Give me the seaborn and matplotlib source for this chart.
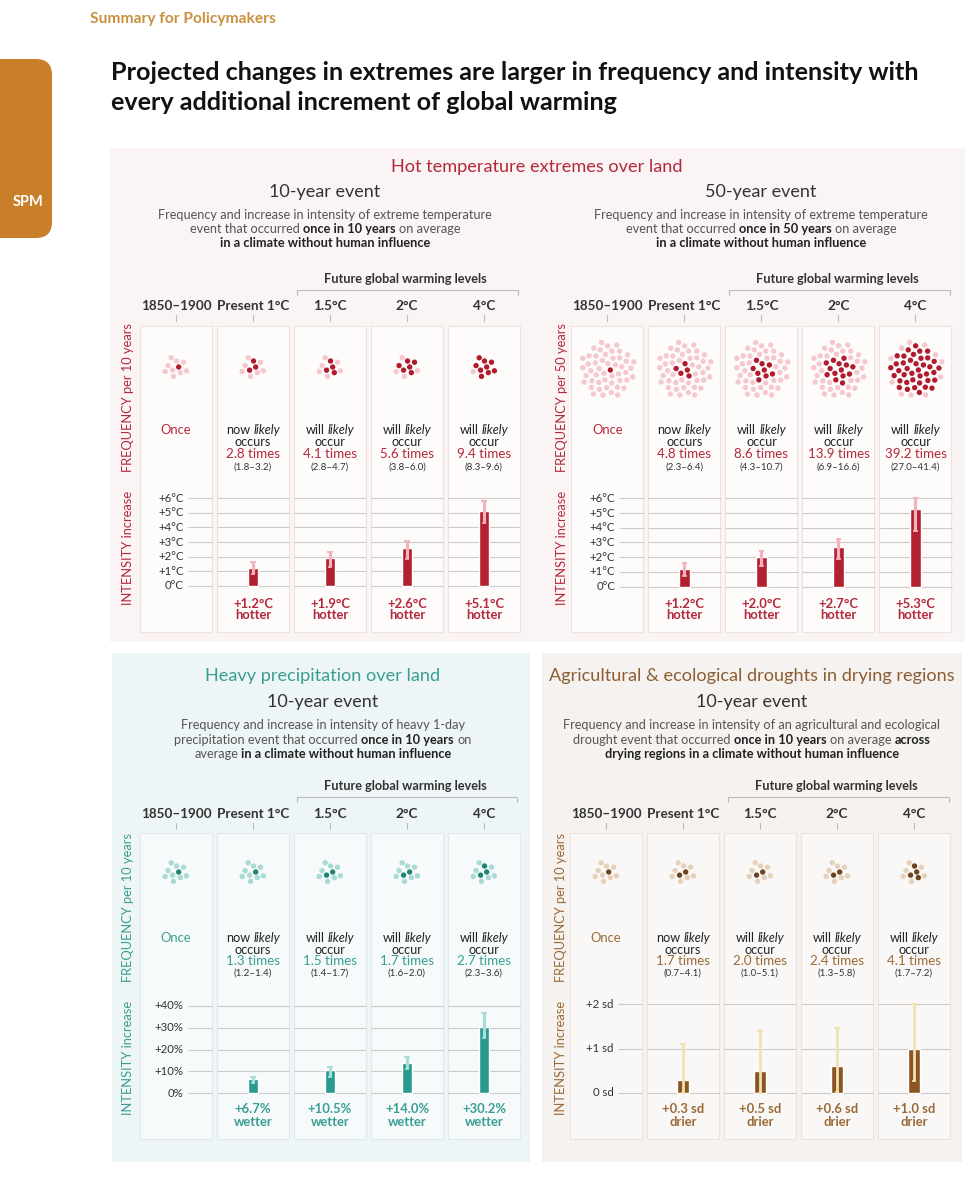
import numpy as np
import pandas as pd
import matplotlib
matplotlib.use("Agg")
import matplotlib.pyplot as plt
import seaborn as sns
from matplotlib.patches import Rectangle, FancyBboxPatch

sns.set_theme(style="white")
plt.rcParams["font.family"] = ["Lato", "DejaVu Sans"]

# ---------------- data ----------------
levels = ["1850–1900", "Present 1°C", "1.5°C", "2°C", "4°C"]
future_levels = levels[1:]

hot10_freq = [1.0, 2.8, 4.1, 5.6, 9.4]
hot10_freq_lo = [1.0, 1.8, 2.8, 3.8, 8.3]
hot10_freq_hi = [1.0, 3.2, 4.7, 6.0, 9.6]
hot10_int = [1.2, 1.9, 2.6, 5.1]
hot10_int_lo = [0.8, 1.3, 1.8, 4.3]
hot10_int_hi = [1.6, 2.3, 3.1, 5.8]

hot50_freq = [1.0, 4.8, 8.6, 13.9, 39.2]
hot50_freq_lo = [1.0, 2.3, 4.3, 6.9, 27.0]
hot50_freq_hi = [1.0, 6.4, 10.7, 16.6, 41.4]
hot50_int = [1.2, 2.0, 2.7, 5.3]
hot50_int_lo = [0.7, 1.4, 1.9, 3.8]
hot50_int_hi = [1.6, 2.4, 3.2, 6.0]

pr_freq = [1.0, 1.3, 1.5, 1.7, 2.7]
pr_freq_lo = [1.0, 1.2, 1.4, 1.6, 2.3]
pr_freq_hi = [1.0, 1.4, 1.7, 2.0, 3.6]
pr_int = [6.7, 10.5, 14.0, 30.2]
pr_int_lo = [4.9, 7.6, 11.0, 25.1]
pr_int_hi = [7.6, 12.2, 16.4, 36.5]

dr_freq = [1.0, 1.7, 2.0, 2.4, 4.1]
dr_freq_lo = [1.0, 0.7, 1.0, 1.3, 1.7]
dr_freq_hi = [1.0, 4.1, 5.1, 5.8, 7.2]
dr_int = [0.3, 0.5, 0.6, 1.0]
dr_int_lo = [0.0, 0.0, 0.03, 0.26]
dr_int_hi = [1.1, 1.4, 1.47, 2.0]

hot_ticks = [0, 1, 2, 3, 4, 5, 6]
hot_tick_labels = ["0°C", "+1°C", "+2°C", "+3°C", "+4°C", "+5°C", "+6°C"]
pr_ticks = [0, 10, 20, 30, 40]
pr_tick_labels = ["0%", "+10%", "+20%", "+30%", "+40%"]
dr_ticks = [0, 1, 2]
dr_tick_labels = ["0 sd", "+1 sd", "+2 sd"]

# ---------------- figure ----------------
W, H = 979, 1177
fig = plt.figure(figsize=(W / 100, H / 100), dpi=100)
bg = fig.add_axes([0, 0, 1, 1])
bg.set_xlim(0, W)
bg.set_ylim(H, 0)
bg.axis("off")
renderer = fig.canvas.get_renderer()


def px_axes(x0, y0, x1, y1):
    return fig.add_axes([x0 / W, 1 - y1 / H, (x1 - x0) / W, (y1 - y0) / H])


def text_width(s, **kw):
    t = bg.text(0, 0, s, **kw)
    w = t.get_window_extent(renderer).width
    t.remove()
    return w


def rich(xc, y, segs, size, ha="center"):
    arts, widths = [], []
    for s, wt, st, col in segs:
        t = bg.text(0, y, s, fontsize=size, fontweight=wt, fontstyle=st,
                    color=col, ha="left", va="center_baseline")
        widths.append(t.get_window_extent(renderer).width)
        arts.append(t)
    sp = text_width("a a", fontsize=size) - text_width("aa", fontsize=size)
    total = sum(widths) + sp * (len(segs) - 1)
    x = xc - total / 2 if ha == "center" else xc
    for t, w in zip(arts, widths):
        t.set_x(x)
        x += w + sp


def sunflower(n, spacing):
    i = np.arange(n)
    r = spacing * np.sqrt(i + 0.5)
    th = i * np.pi * (3 - np.sqrt(5))
    return r * np.cos(th), r * np.sin(th)


# ---------------- page furniture ----------------
bg.text(90, 19, "Summary for Policymakers", fontsize=11.2, fontweight="bold",
        color="#c9913f", ha="left", va="center")
bg.add_patch(FancyBboxPatch((-30, 59), 82, 179, boxstyle="round,pad=0,rounding_size=16",
                            facecolor="#c97f2a", edgecolor="none"))
bg.text(28, 202, "SPM", fontsize=10.5, fontweight="bold", color="white",
        ha="center", va="center")
bg.text(111, 73, "Projected changes in extremes are larger in frequency and intensity with",
        fontsize=18.1, fontweight="bold", color="#111111", ha="left", va="center")
bg.text(111, 102, "every additional increment of global warming",
        fontsize=18.1, fontweight="bold", color="#111111", ha="left", va="center")

# panel backgrounds
bg.add_patch(Rectangle((110, 148), 855, 494, facecolor="#fbf4f4", edgecolor="none"))
bg.add_patch(Rectangle((112, 653), 418, 509, facecolor="#eef5f6", edgecolor="none"))
bg.add_patch(Rectangle((542, 653), 420, 509, facecolor="#f6f2ef", edgecolor="none"))

bg.text(537, 167, "Hot temperature extremes over land", fontsize=13.1,
        color="#b3283c", ha="center", va="center")
bg.text(323, 676, "Heavy precipitation over land", fontsize=13.1,
        color="#3a9e92", ha="center", va="center")
bg.text(752, 676, "Agricultural & ecological droughts in drying regions", fontsize=13.1,
        color="#8b5e34", ha="center", va="center")

GRAY = "#555555"
DARK = "#222222"


def draw_panel(cfg):
    c0 = cfg["c0"]
    step = 77
    centers = [c0 + i * step for i in range(5)]
    # sub-title and description
    bg.text(cfg["xc"], cfg["sub_y"], "10-year event" if cfg["period"] == 10 else "50-year event",
            fontsize=13, color="#333333", ha="center", va="center")
    for yy, segs in zip(cfg["desc_y"], cfg["desc"]):
        rich(cfg["xc"], yy, [(s, "bold" if b else "normal", "normal", DARK if b else GRAY)
                             for s, b in segs], 9.15)
    # future bracket
    bx0, bx1 = cfg["bracket_x"]
    by = cfg["bracket_y"]
    bg.plot([bx0, bx0, bx1, bx1], [by + 5, by, by, by + 5], color="#bbbbbb", lw=0.8)
    bg.text((bx0 + bx1) / 2 - 2, cfg["future_y"], "Future global warming levels", fontsize=9.2,
            fontweight="bold", color="#333333", ha="center", va="center")
    # headers
    for c, lev in zip(centers, levels):
        bg.text(c, cfg["header_y"], lev, fontsize=9.7, fontweight="bold", color="#333333",
                ha="center", va="center")
        bg.plot([c, c], [cfg["header_y"] + 9, cfg["header_y"] + 15], color="#bbbbbb", lw=0.8)
    # column boxes
    t0, t1 = cfg["box_y"]
    for c in centers:
        bg.add_patch(Rectangle((c - 36, t0), 72, t1 - t0, facecolor=cfg["box_face"],
                               edgecolor=cfg["box_edge"], lw=0.8))
    # vertical labels
    bg.text(cfg["vx"], cfg["vf_y"], f"FREQUENCY per {cfg['period']} years", rotation=90,
            fontsize=9.3, color=cfg["accent"], ha="center", va="center")
    bg.text(cfg["vx"], cfg["vi_y"], "INTENSITY increase", rotation=90,
            fontsize=9.3, color=cfg["accent"], ha="center", va="center")
    # dots
    n = cfg["period"]
    dx, dy = sunflower(n, cfg["spacing"])
    for c, f in zip(centers, cfg["freq"]):
        k = int(np.floor(f + 0.5))
        cols = [cfg["dot_dark"]] * k + [cfg["dot_light"]] * (n - k)
        bg.scatter(c + dx, cfg["dots_y"] + dy, s=cfg["dot_s"], c=cols,
                   linewidths=0, zorder=3)
    # frequency texts
    r = cfg["rows"]
    bg.text(centers[0], r[0], "Once", fontsize=9.4, color=cfg["accent"],
            ha="center", va="center_baseline")
    for i in range(1, 5):
        c = centers[i]
        first = "now" if i == 1 else "will"
        rich(c, r[0], [(first, "normal", "normal", "#222222"),
                       ("likely", "normal", "italic", "#222222")], 9.1)
        bg.text(c, r[1], "occurs" if i == 1 else "occur", fontsize=9.1, color="#222222",
                ha="center", va="center_baseline")
        bg.text(c, r[2], f"{cfg['freq'][i]:.1f} times", fontsize=9.6, color=cfg["accent"],
                ha="center", va="center_baseline")
        bg.text(c, r[3], f"({cfg['freq_lo'][i]:.1f}–{cfg['freq_hi'][i]:.1f})", fontsize=7.0,
                color="#333333", ha="center", va="center_baseline")
    # intensity axes
    ylo, yhi = cfg["ylim"]
    z, ppu = cfg["zero_px"], cfg["ppu"]
    ax = px_axes(c0 - 38.5, z - yhi * ppu, c0 + 4 * step + 38.5, z - ylo * ppu)
    df = pd.DataFrame({"level": future_levels, "value": cfg["int"]})
    sns.barplot(data=df, x="level", y="value", order=levels, color=cfg["bar"],
                width=cfg["bw"], errorbar=None, saturation=1, ax=ax, zorder=3)
    ax.set_xlim(-0.5, 4.5)
    ax.set_ylim(ylo, yhi)
    ax.axis("off")
    for t, lab in zip(cfg["ticks"], cfg["tick_labels"]):
        ax.hlines(t, 0.15, 0.47, color="#cfcaca", lw=0.8, zorder=1)
        ax.hlines([t] * 4, np.arange(1, 5) - 0.47, np.arange(1, 5) + 0.47,
                  color="#cfcaca", lw=0.8, zorder=1)
        ax.text(0.10, t, lab, fontsize=8.2, color="#333333", ha="right", va="center")
    xs = np.arange(1, 5)
    ax.vlines(xs, cfg["int_lo"], cfg["int_hi"], color=cfg["err"], lw=cfg["err_lw"], zorder=4)
    ax.hlines(cfg["int_hi"], xs - 0.035, xs + 0.035, color=cfg["err"], lw=1.4, zorder=4)
    ax.hlines(cfg["int_lo"], xs - 0.03, xs + 0.03, color=cfg["err"], lw=1.2, zorder=4)
    # intensity labels
    for i in range(1, 5):
        bg.text(centers[i], cfg["lab_rows"][0], f"+{cfg['int'][i - 1]:.1f}{cfg['unit']}",
                fontsize=9.4, fontweight="bold", color=cfg["accent"], ha="center",
                va="center_baseline")
        bg.text(centers[i], cfg["lab_rows"][1], cfg["word"], fontsize=9.4, fontweight="bold",
                color=cfg["accent"], ha="center", va="center_baseline")


hot_common = dict(box_y=(326, 632), header_y=306, future_y=279, bracket_y=290,
                  sub_y=192, desc_y=(214, 228, 242), vf_y=398, vi_y=548, dots_y=367,
                  rows=(429, 441, 453, 466), lab_rows=(603, 614), box_face="#fefbfb",
                  box_edge="#f0e1e1", accent="#b3283c", dot_dark="#b01c2e",
                  dot_light="#f5c8d0", bar="#b3202f", err="#f2b3bd", err_lw=2.3,
                  bw=0.13, ylim=(-0.3, 6.4), ticks=hot_ticks, tick_labels=hot_tick_labels,
                  unit="°C", word="hotter")

draw_panel(dict(hot_common, c0=176, xc=325, period=10, bracket_x=(297, 518), vx=128,
                spacing=3.8, dot_s=15, freq=hot10_freq, freq_lo=hot10_freq_lo,
                freq_hi=hot10_freq_hi, int=hot10_int, int_lo=hot10_int_lo,
                int_hi=hot10_int_hi, zero_px=585.7, ppu=14.56,
                desc=[[("Frequency and increase in intensity of extreme temperature", False)],
                      [("event that occurred", False), ("once in 10 years", True),
                       ("on average", False)],
                      [("in a climate without human influence", True)]]))

draw_panel(dict(hot_common, c0=607.5, xc=761, period=50, bracket_x=(729, 950), vx=562,
                spacing=4.0, dot_s=15, dots_y=370, freq=hot50_freq, freq_lo=hot50_freq_lo,
                freq_hi=hot50_freq_hi, int=hot50_int, int_lo=hot50_int_lo,
                int_hi=hot50_int_hi, zero_px=586.5, ppu=14.7,
                desc=[[("Frequency and increase in intensity of extreme temperature", False)],
                      [("event that occurred", False), ("once in 50 years", True),
                       ("on average", False)],
                      [("in a climate without human influence", True)]]))

bottom_common = dict(box_y=(833, 1139), header_y=814, future_y=786, bracket_y=797,
                     sub_y=702, desc_y=(724, 739, 753), vf_y=908, vi_y=1058, dots_y=872,
                     rows=(937, 949, 960, 972), lab_rows=(1108, 1121), period=10,
                     spacing=3.8, dot_s=15)

draw_panel(dict(bottom_common, c0=176, xc=323, bracket_x=(297, 517), vx=128,
                box_face="#f6fafb", box_edge="#e0eaec", accent="#3a9e92",
                dot_dark="#1f8577", dot_light="#a9dad3", bar="#2a9a8e", err="#a9ded6",
                err_lw=2.3, bw=0.13, ylim=(-1.5, 42), ticks=pr_ticks,
                tick_labels=pr_tick_labels, unit="%", word="wetter",
                freq=pr_freq, freq_lo=pr_freq_lo, freq_hi=pr_freq_hi,
                int=pr_int, int_lo=pr_int_lo, int_hi=pr_int_hi, zero_px=1093.3, ppu=2.19,
                desc=[[("Frequency and increase in intensity of heavy 1-day", False)],
                      [("precipitation event that occurred", False), ("once in 10 years", True),
                       ("on", False)],
                      [("average", False), ("in a climate without human influence", True)]]))

draw_panel(dict(bottom_common, c0=606, xc=752, bracket_x=(728, 949), vx=561,
                box_face="#faf8f6", box_edge="#ebe3dc", accent="#9a6a38",
                dot_dark="#6e4420", dot_light="#e5d0ba", bar="#8a5522", err="#f2e1b3",
                err_lw=2.0, bw=0.145, ylim=(-0.08, 2.1), ticks=dr_ticks,
                tick_labels=dr_tick_labels, unit=" sd", word="drier",
                freq=dr_freq, freq_lo=dr_freq_lo, freq_hi=dr_freq_hi,
                int=dr_int, int_lo=dr_int_lo, int_hi=dr_int_hi, zero_px=1093, ppu=44.5,
                desc=[[("Frequency and increase in intensity of an agricultural and ecological", False)],
                      [("drought event that occurred", False), ("once in 10 years", True),
                       ("on average", False), ("across", True)],
                      [("drying regions in a climate without human influence", True)]]))

fig.savefig("out.png", dpi=100)
